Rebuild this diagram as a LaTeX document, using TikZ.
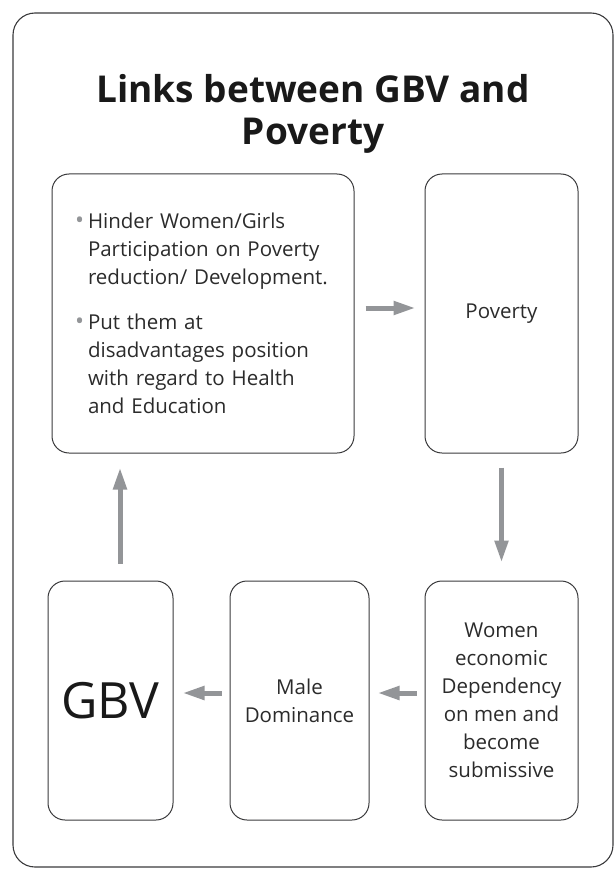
\documentclass[tikz,border=0pt]{standalone}
\usepackage{fontspec}
\setmainfont{Open Sans}
\usetikzlibrary{arrows.meta}
\definecolor{framegray}{HTML}{3A3A3C}
\definecolor{arrowgray}{HTML}{939598}
\definecolor{textgray}{HTML}{2B2B2B}
\newcommand{\dotitem}{\makebox[13pt][l]{\textcolor{arrowgray}{\fontsize{24}{24}\selectfont\textbullet}}}
\newcommand{\hang}{\hspace*{13pt}}
\begin{document}
\begin{tikzpicture}[x=1pt,y=-1pt,
    box/.style={draw=framegray,line width=1pt,rounded corners=17pt,inner sep=0pt,
        text=textgray,font=\fontsize{20.5}{28}\selectfont,align=center},
    flow/.style={draw=arrowgray,line width=5pt,-{Triangle[length=22pt,width=13pt]}}]
    \useasboundingbox (0,0) rectangle (614,869);
    \draw[framegray,line width=1.1pt,rounded corners=22pt] (13,13) rectangle (613,867);
    \node[inner sep=0pt,align=center,text=black!90,font=\bfseries\fontsize{37}{42}\selectfont] (title) at (313,114) {Links between GBV and\\Poverty};

    % top row
    \node[box,minimum width=302pt,minimum height=279pt,text width=256pt,align=left] (hinder) at (203,313.5)
        {\dotitem Hinder Women/Girls\\
         \hang Participation on Poverty\\
         \hang reduction/ Development.\\[17pt]
         \dotitem Put them at\\
         \hang disadvantages position\\
         \hang with regard to Health\\
         \hang and Education\\[-10pt]};
    \node[box,minimum width=153pt,minimum height=279pt] (poverty) at (501.5,313.5) {Poverty};

    % bottom row
    \node[box,minimum width=153pt,minimum height=239pt] (women) at (501.5,700.5)
        {Women\\economic\\Dependency\\on men and\\become\\submissive};
    \node[box,minimum width=139pt,minimum height=239pt] (male) at (299.5,700.5) {Male\\Dominance};
    \node[box,minimum width=125pt,minimum height=239pt,text=black!90,font=\fontsize{50}{50}\selectfont] (gbv) at (110.5,700.5) {GBV};

    \draw[flow,shorten <=11pt,shorten >=9pt] ([yshift=5.5pt]hinder.east) -- ([yshift=5.5pt]poverty.west);
    \draw[flow,shorten <=14pt,shorten >=18pt] (poverty.south) -- (women.north);
    \draw[flow,shorten <=8pt,shorten >=8pt] ([yshift=7.5pt]women.west) -- ([yshift=7.5pt]male.east);
    \draw[flow,shorten <=8pt,shorten >=9pt] ([yshift=7.5pt]male.west) -- ([yshift=7.5pt]gbv.east);
    \draw[flow,shorten <=17pt,shorten >=14pt] ([xshift=9.5pt]gbv.north) -- ([xshift=9.5pt]gbv.north |- hinder.south);
\end{tikzpicture}
\end{document}
